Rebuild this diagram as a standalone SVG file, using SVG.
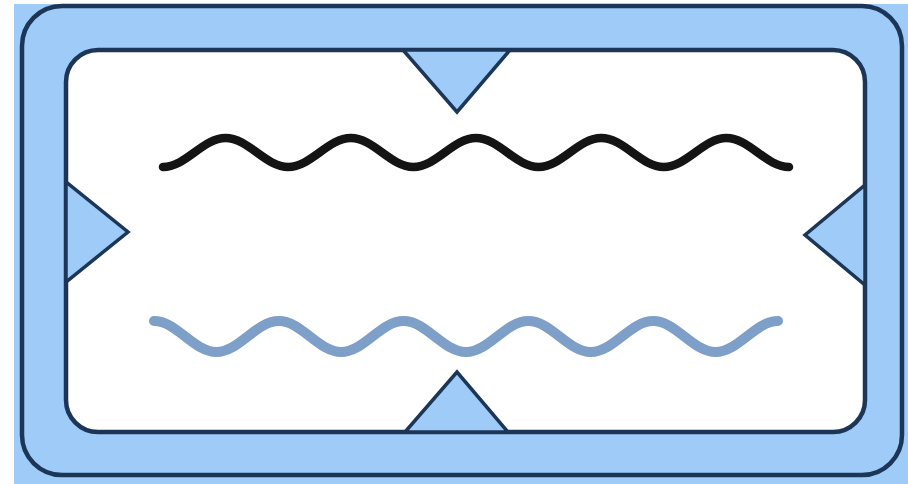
<svg xmlns="http://www.w3.org/2000/svg" width="908" height="484" viewBox="0 0 908 484">
<style>
.frame{fill:#9fcbf8;stroke:#1c3657;stroke-width:4.5}
.panel{fill:#ffffff;stroke:#1c3657;stroke-width:4.5}
.tri{fill:#9fcbf8;stroke:#1c3657;stroke-width:3.5;stroke-linejoin:miter}
.wave{fill:none;stroke-linecap:round;stroke-linejoin:round}
</style>
<rect x="0" y="0" width="908" height="484" fill="#ffffff"/>
<rect x="14" y="4" width="894" height="480" fill="#9fcbf8"/>
<g id="outer-frame">
<rect class="frame" x="22" y="6" width="880" height="469" rx="40" ry="40"/>
</g>
<g id="inner-panel">
<rect class="panel" x="66" y="50" width="799" height="382" rx="32" ry="32"/>
</g>
<g id="notch-top"><polygon class="tri" points="403,50 510,50 457,112"/></g>
<g id="notch-bottom"><polygon class="tri" points="405,432 508,432 457,372"/></g>
<g id="notch-left"><polygon class="tri" points="66,182 66,282 128,232"/></g>
<g id="notch-right"><polygon class="tri" points="865,185 865,285 805,235"/></g>
<g id="wave-black">
<path class="wave" stroke="#141414" stroke-width="8.5" d="M163,167 C185.7,167 202.9,138 225.6,138 C248.3,138 265.5,167 288.2,167 C310.9,167 328.1,138 350.8,138 C373.5,138 390.7,167 413.4,167 C436.1,167 453.3,138 476,138 C498.7,138 515.9,167 538.6,167 C561.3,167 578.5,138 601.2,138 C623.9,138 641.1,167 663.8,167 C686.5,167 703.7,138 726.4,138 C749.1,138 766.3,167 789,167"/>
</g>
<g id="wave-blue">
<path class="wave" stroke="#7d9fc8" stroke-width="10" d="M154,321 C176.7,321 193.7,352 216.4,352 C239.1,352 256.1,321 278.8,321 C301.5,321 318.5,352 341.2,352 C363.9,352 380.9,321 403.6,321 C426.3,321 443.3,352 466,352 C488.7,352 505.7,321 528.4,321 C551.1,321 568.1,352 590.8,352 C613.5,352 630.5,321 653.2,321 C675.9,321 692.9,352 715.6,352 C738.3,352 755.3,321 778,321"/>
</g>
</svg>
